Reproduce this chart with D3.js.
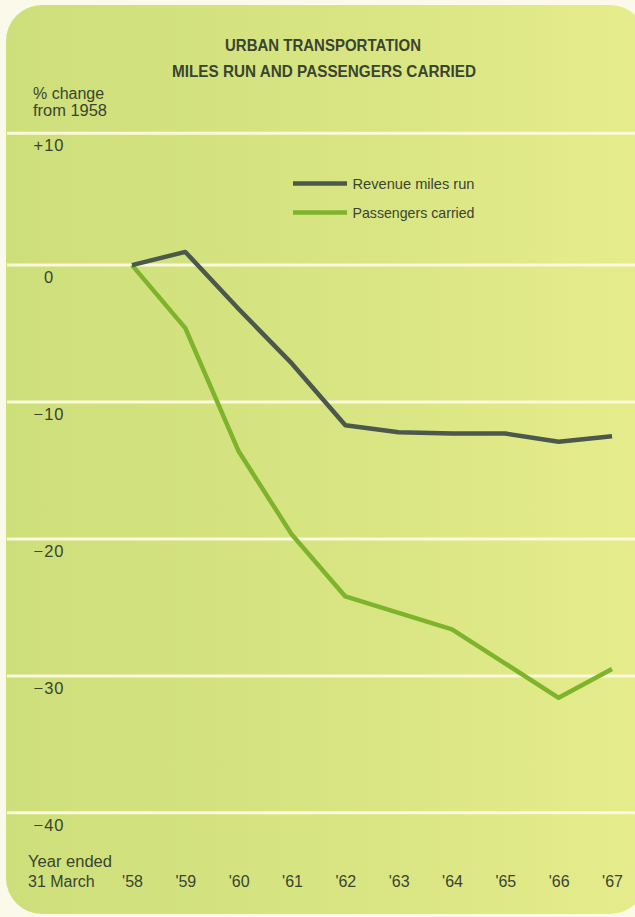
<!DOCTYPE html>
<html>
<head>
<meta charset="utf-8">
<script src="https://cdn.jsdelivr.net/npm/d3@7"></script>
<style>
  html, body { margin: 0; padding: 0; background: #fbf9ea; }
  svg { display: block; }
  text { font-family: "Liberation Sans", Arial, sans-serif; fill: #3a452f; }
</style>
</head>
<body>
<svg id="chart" width="635" height="917"></svg>
<script>
// ---- data ----
const years = ["'58", "'59", "'60", "'61", "'62", "'63", "'64", "'65", "'66", "'67"];
const revenueMiles = [0, 1.0, -3.2, -7.2, -11.7, -12.2, -12.3, -12.3, -12.9, -12.5];
const passengers   = [0, -4.6, -13.6, -19.7, -24.2, -25.4, -26.6, -29.1, -31.6, -29.5];
const seriesNames = ["Revenue miles  run", "Passengers carried"];
const yTickValues = [10, 0, -10, -20, -30, -40];
const yTickLabels = ["+10", "0", "\u221210", "\u221220", "\u221230", "\u221240"];
const titleLines = ["URBAN TRANSPORTATION", "MILES RUN AND PASSENGERS CARRIED"];

const colors = ["#4b584b", "#7eb42c"];

const svg = d3.select("#chart");
const W = 635, H = 917;

// background panel with gradient
const defs = svg.append("defs");
const grad = defs.append("linearGradient").attr("id", "bg").attr("x1", "0").attr("x2", "1").attr("y1", "0").attr("y2", "0");
grad.append("stop").attr("offset", "0%").attr("stop-color", "#cddf7b");
grad.append("stop").attr("offset", "55%").attr("stop-color", "#d8e582");
grad.append("stop").attr("offset", "100%").attr("stop-color", "#e6ec8c");

svg.append("rect").attr("x", 6).attr("y", 5).attr("width", 640).attr("height", 909)
  .attr("rx", 36).attr("ry", 36).attr("fill", "url(#bg)");

// scales
const x = d3.scalePoint().domain(years).range([132, 612]);
const y = d3.scaleLinear().domain([10, 0, -40]).range([133.3, 265.1, 812.8]);

// gridlines
svg.append("g").selectAll("line").data(yTickValues).join("line")
  .attr("x1", 7).attr("x2", W)
  .attr("y1", d => y(d)).attr("y2", d => y(d))
  .attr("stroke", "#fbf8dc").attr("stroke-width", 3);

// y tick labels
svg.append("g").selectAll("text").data(yTickValues).join("text")
  .attr("x", 49).attr("y", d => y(d) + 18)
  .attr("text-anchor", "middle")
  .attr("font-size", 16.5)
  .attr("letter-spacing", 1)
  .text((d, i) => yTickLabels[i]);

// y axis title
svg.append("text").attr("x", 33).attr("y", 98.5).attr("font-size", 16).text("% change");
svg.append("text").attr("x", 33).attr("y", 115.5).attr("font-size", 16)
  .attr("textLength", 74).attr("lengthAdjust", "spacingAndGlyphs").text("from 1958");

// x axis labels via d3 axis
const xAxis = svg.append("g").attr("transform", "translate(0,872)")
  .call(d3.axisBottom(x).tickSize(0).tickPadding(0));
xAxis.select(".domain").remove();
xAxis.selectAll("text").attr("font-size", 16).attr("fill", "#3a452f")
  .attr("font-family", "Liberation Sans, Arial, sans-serif")
  .attr("dy", "0").attr("y", 14.5);

svg.append("text").attr("x", 28).attr("y", 866.5).attr("font-size", 16)
  .attr("textLength", 84).attr("lengthAdjust", "spacingAndGlyphs").text("Year ended");
svg.append("text").attr("x", 28).attr("y", 886.5).attr("font-size", 16).text("31 March");

// title
svg.append("text").attr("x", 323).attr("y", 50.5).attr("text-anchor", "middle")
  .attr("font-size", 16.5).attr("font-weight", "bold").attr("fill", "#2f3a26")
  .attr("textLength", 196).attr("lengthAdjust", "spacingAndGlyphs").text(titleLines[0]);
svg.append("text").attr("x", 324).attr("y", 76.5).attr("text-anchor", "middle")
  .attr("font-size", 16.5).attr("font-weight", "bold").attr("fill", "#2f3a26")
  .attr("textLength", 304).attr("lengthAdjust", "spacingAndGlyphs").text(titleLines[1]);

// lines
const line = d3.line().x((d, i) => x(years[i])).y(d => y(d));
[passengers, revenueMiles].forEach((s, idx) => {
  const k = idx === 0 ? 1 : 0;
  svg.append("path").datum(s).attr("d", line)
    .attr("fill", "none").attr("stroke", colors[k]).attr("stroke-width", 4.5)
    .attr("stroke-linejoin", "round");
});

// legend
const legend = svg.append("g");
seriesNames.forEach((name, k) => {
  const ly = 183.5 + k * 29;
  legend.append("line").attr("x1", 293).attr("x2", 347).attr("y1", ly).attr("y2", ly)
    .attr("stroke", colors[k]).attr("stroke-width", 4.5);
  legend.append("text").attr("x", 352.5).attr("y", ly + 5.5).attr("font-size", 14.5)
    .attr("textLength", 122).attr("lengthAdjust", "spacingAndGlyphs").text(name);
});
</script>
</body>
</html>
